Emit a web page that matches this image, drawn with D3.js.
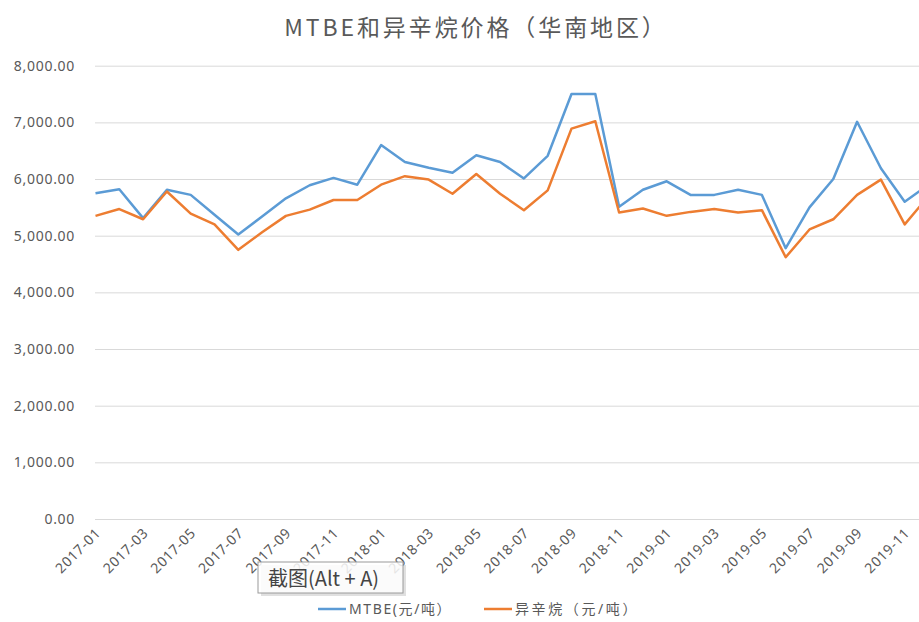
<!DOCTYPE html>
<html>
<head>
<meta charset="utf-8">
<script src="https://cdn.jsdelivr.net/npm/d3@7"></script>
<style>
body { margin: 0; background: #fff; }
.app { width: 919px; height: 622px; overflow: hidden; }
text { font-family: "Noto Sans", "Noto Sans CJK SC", sans-serif; }
</style>
</head>
<body>
<div class="app"></div>
<script>
// months 2017-01 .. 2019-12
var months = [];
for (var yr = 2017; yr <= 2019; yr++) {
    for (var m = 1; m <= 12; m++) {
        months.push(yr + "-" + (m < 10 ? "0" + m : "" + m));
    }
}
var tickLabels = months.filter(function (d, i) { return i % 2 === 0; });
var yTicks = [0, 1000, 2000, 3000, 4000, 5000, 6000, 7000, 8000];

var seriesNames = ["MTBE(元/吨）", "异辛烷（元/吨）"];
var mtbe = [5750, 5820, 5310, 5810, 5720, 5370, 5020, 5340, 5660, 5890,
            6020, 5900, 6600, 6300, 6200, 6110, 6420, 6300, 6010, 6410,
            7500, 7500, 5510, 5810, 5960, 5720, 5720, 5810, 5720, 4780,
            5500, 6000, 7010, 6190, 5600, 5900];
var isooctane = [5350, 5470, 5290, 5780, 5390, 5200, 4750, 5060, 5350, 5460,
                 5630, 5630, 5900, 6050, 5990, 5740, 6090, 5740, 5450, 5800,
                 6890, 7020, 5410, 5480, 5350, 5420, 5470, 5410, 5450, 4620,
                 5110, 5290, 5720, 5990, 5200, 5700];
var colors = ["#5b9bd5", "#ed7d31"];

var width = 919, height = 622;
var svg = d3.select(".app").append("svg").attr("width", width).attr("height", height);

var x = d3.scalePoint().domain(months).range([95.5, 95.5 + 35 * 23.8]);
var y = d3.scaleLinear().domain([0, 8000]).range([519, 65.7]);
var fmt = d3.format(",.2f");

// title
svg.append("text").attr("x", 476).attr("y", 36).attr("text-anchor", "middle")
    .attr("font-size", 23).attr("fill", "#595959").attr("letter-spacing", 2.9)
    .attr("style", "font-family:'Noto Sans CJK SC', sans-serif")
    .text("MTBE和异辛烷价格（华南地区）");

// gridlines + y labels
var yAxis = d3.axisLeft(y).tickValues(yTicks).tickSize(-(width - 95)).tickFormat(fmt).tickPadding(20);
var gy = svg.append("g").attr("transform", "translate(95,0)").call(yAxis);
gy.select(".domain").remove();
gy.selectAll(".tick line").attr("stroke", "#d9d9d9").attr("stroke-width", 1);
gy.selectAll(".tick text").attr("fill", "#595959").attr("font-size", 14).attr("letter-spacing", 0.7);

// x labels, rotated
svg.selectAll(".xlab").data(tickLabels).enter().append("text")
    .attr("class", "xlab")
    .attr("transform", function (d) { return "translate(" + (x(d) + 6) + ",534) rotate(-45)"; })
    .attr("text-anchor", "end").attr("font-size", 14).attr("letter-spacing", 0.6).attr("fill", "#595959")
    .text(function (d) { return d; });

// lines
var line = d3.line().x(function (d, i) { return x(months[i]); }).y(function (d) { return y(d); });
[mtbe, isooctane].forEach(function (s, k) {
    svg.append("path").datum(s).attr("d", line).attr("fill", "none")
        .attr("stroke", colors[k]).attr("stroke-width", 2.5).attr("stroke-linejoin", "round");
});

// legend
var legendX = [318, 484];
var legendSpacing = [1.6, 2.6];
seriesNames.forEach(function (name, k) {
    svg.append("line").attr("x1", legendX[k]).attr("x2", legendX[k] + 28)
        .attr("y1", 609).attr("y2", 609).attr("stroke", colors[k]).attr("stroke-width", 2.5);
    svg.append("text").attr("x", legendX[k] + 31).attr("y", 614)
        .attr("font-size", 14).attr("letter-spacing", legendSpacing[k]).attr("fill", "#595959").text(name);
});

// screenshot tooltip overlay
var tip = svg.append("g").attr("transform", "translate(258,562)");
tip.append("rect").attr("x", 3).attr("y", 3).attr("width", 145).attr("height", 31)
    .attr("fill", "#000").attr("opacity", 0.12);
tip.append("rect").attr("x", 0).attr("y", 0).attr("width", 145).attr("height", 31)
    .attr("fill", "#fff").attr("fill-opacity", 0.85).attr("stroke", "#9a9a9a");
tip.append("text").attr("x", 10).attr("y", 24).attr("font-size", 20).attr("fill", "#444")
    .attr("style", "font-family:'Noto Sans CJK SC', sans-serif")
    .text("截图(Alt + A)");
</script>
</body>
</html>
